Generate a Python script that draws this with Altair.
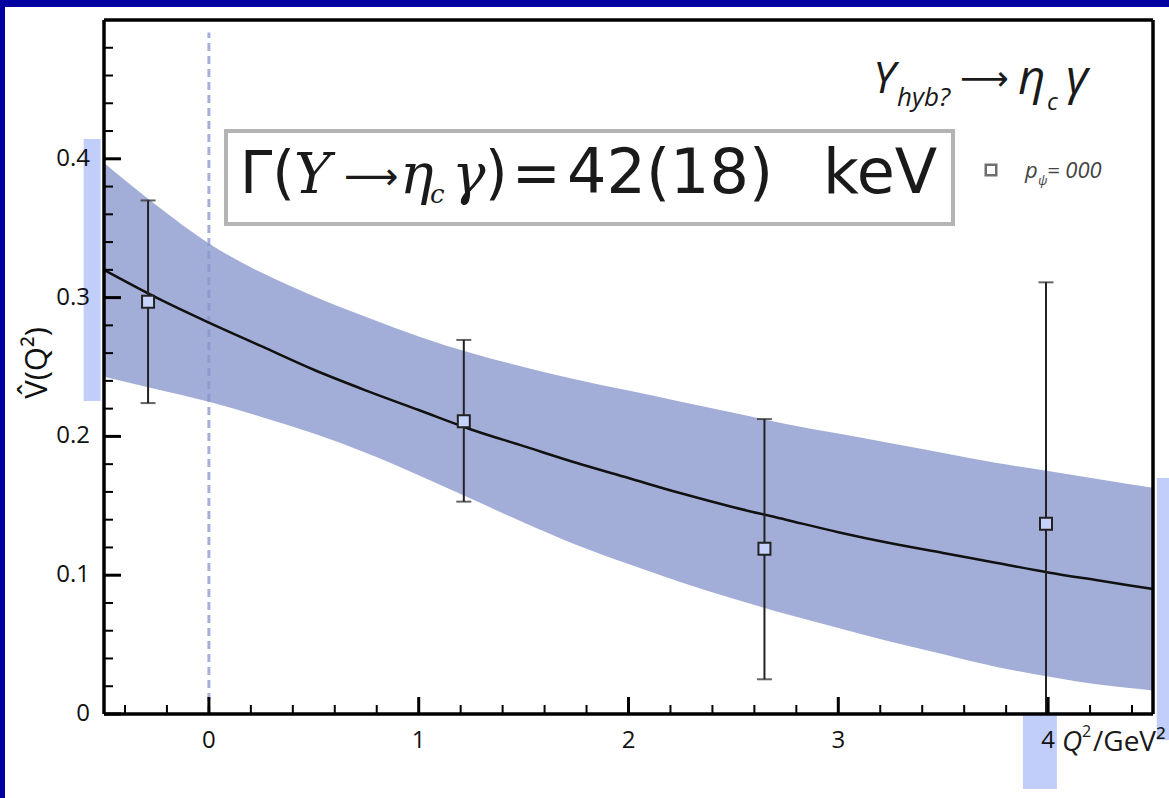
import altair as alt
import pandas as pd

# Fitted form factor: central curve and error band versus Q^2
q2_grid = [-0.5, -0.25, 0.0, 0.25, 0.5, 0.75, 1.0, 1.25, 1.5, 1.75, 2.0,
           2.25, 2.5, 2.75, 3.0, 3.25, 3.5, 3.75, 4.0, 4.25, 4.5]
fit_central = [0.320, 0.300, 0.282, 0.265, 0.248, 0.233, 0.219, 0.205, 0.193, 0.181, 0.170,
               0.159, 0.149, 0.140, 0.131, 0.123, 0.116, 0.109, 0.102, 0.096, 0.090]
fit_upper = [0.397, 0.3665, 0.339, 0.318, 0.301, 0.286, 0.272, 0.260, 0.250, 0.241, 0.233,
             0.225, 0.217, 0.209, 0.202, 0.195, 0.188, 0.181, 0.175, 0.169, 0.163]
fit_lower = [0.243, 0.234, 0.225, 0.214, 0.202, 0.188, 0.172, 0.155, 0.138, 0.122, 0.108,
             0.095, 0.083, 0.072, 0.062, 0.052, 0.043, 0.034, 0.027, 0.021, 0.017]

# Lattice data points with error bars
pt_q2 = [-0.29, 1.215, 2.648, 3.99]
pt_v = [0.297, 0.211, 0.119, 0.137]
pt_lo = [0.224, 0.153, 0.025, -0.04]
pt_hi = [0.370, 0.2695, 0.2125, 0.311]

# Axis ticks and their labels
x_major = [0, 1, 2, 3, 4]
x_labels = ["0", "1", "2", "3", "4"]
x_minor = [-0.4, -0.2, 0.2, 0.4, 0.6, 0.8, 1.2, 1.4, 1.6, 1.8, 2.2, 2.4, 2.6, 2.8,
           3.2, 3.4, 3.6, 3.8, 4.2, 4.4]
y_major = [0, 0.1, 0.2, 0.3, 0.4]
y_labels = ["0", "0.1", "0.2", "0.3", "0.4"]
y_minor = [0.02, 0.04, 0.06, 0.08, 0.12, 0.14, 0.16, 0.18, 0.22, 0.24, 0.26, 0.28,
           0.32, 0.34, 0.36, 0.38, 0.42, 0.44, 0.46, 0.48]

# Highlight boxes (data coordinates)
hl_x0 = [-0.597, 3.880, 4.518]
hl_x1 = [-0.516, 4.042, 4.700]
hl_y0 = [0.2255, -0.054, -0.0187]
hl_y1 = [0.4143, 0.0, 0.170]

W, H = 1049, 694
XMIN, XMAX, YMIN, YMAX = -0.5, 4.5, 0.0, 0.5

xscale = alt.Scale(domain=[XMIN, XMAX], nice=False, zero=False)
yscale = alt.Scale(domain=[YMIN, YMAX], nice=False, zero=False)


def X(field):
    return alt.X(field, type="quantitative", scale=xscale, axis=None)


def Y(field):
    return alt.Y(field, type="quantitative", scale=yscale, axis=None)


fit = pd.DataFrame({"q2": q2_grid, "v": fit_central, "up": fit_upper, "lo": fit_lower})
pts = pd.DataFrame({"q2": pt_q2, "v": pt_v, "lo": pt_lo, "hi": pt_hi})
hl = pd.DataFrame({"x0": hl_x0, "x1": hl_x1, "y0": hl_y0, "y1": hl_y1})
xt = pd.DataFrame({"t": x_major, "lab": x_labels})
yt = pd.DataFrame({"t": y_major, "lab": y_labels})
one = pd.DataFrame({"k": [0]})

# White page over the dark-blue frame
page = alt.Chart(one).mark_rect(color="white", clip=False).encode(
    x=alt.value(-99), x2=alt.value(W + 20), y=alt.value(-13), y2=alt.value(H + 90))

highlights = alt.Chart(hl).mark_rect(color="#C2CEFA", clip=False).encode(
    x=X("x0"), x2="x1", y=Y("y0"), y2="y1")

band = alt.Chart(fit).mark_area(color="#A3AED8", interpolate="monotone").encode(
    x=X("q2"), y=Y("up"), y2="lo")

zero_line = alt.Chart(pd.DataFrame({"q2": [0.0], "y0": [0.0], "y1": [0.491]})).mark_rule(
    color="#8596CC", opacity=0.75, strokeWidth=3, strokeDash=[8, 5]).encode(
    x=X("q2"), y=Y("y0"), y2="y1")

curve = alt.Chart(fit).mark_line(color="#111", strokeWidth=2.5, interpolate="monotone").encode(
    x=X("q2"), y=Y("v"))

bars = alt.Chart(pts).mark_rule(color="#222", strokeWidth=2, clip=True).encode(
    x=X("q2"), y=Y("lo"), y2="hi")
cap_hi = alt.Chart(pts).mark_tick(color="#222", orient="horizontal", size=15,
                                  thickness=2, clip=True).encode(x=X("q2"), y=Y("hi"))
cap_lo = alt.Chart(pts).mark_tick(color="#222", orient="horizontal", size=15,
                                  thickness=2, clip=True).encode(x=X("q2"), y=Y("lo"))
squares = alt.Chart(pts).mark_square(size=144, fill="#C6D3FB", stroke="#222",
                                     strokeWidth=2, opacity=1).encode(x=X("q2"), y=Y("v"))

# Plot frame
frame_h = alt.Chart(pd.DataFrame({"a": [XMIN, XMIN], "b": [XMAX, XMAX], "y": [YMIN, YMAX]})).mark_rule(
    color="black", strokeWidth=3.5, clip=False).encode(x=X("a"), x2="b", y=Y("y"))
frame_v = alt.Chart(pd.DataFrame({"x": [XMIN, XMAX], "a": [YMIN, YMIN], "b": [YMAX, YMAX]})).mark_rule(
    color="black", strokeWidth=3.5, clip=False).encode(x=X("x"), y=Y("a"), y2="b")

# Inward ticks
xt_major = alt.Chart(xt).mark_rule(color="black", strokeWidth=3).encode(
    x=X("t"), y=alt.value(H), y2=alt.value(H - 17))
xt_minor = alt.Chart(pd.DataFrame({"t": x_minor})).mark_rule(color="black", strokeWidth=2).encode(
    x=X("t"), y=alt.value(H), y2=alt.value(H - 9))
yt_major = alt.Chart(yt).mark_rule(color="black", strokeWidth=3).encode(
    y=Y("t"), x=alt.value(0), x2=alt.value(17))
yt_minor = alt.Chart(pd.DataFrame({"t": y_minor})).mark_rule(color="black", strokeWidth=2).encode(
    y=Y("t"), x=alt.value(0), x2=alt.value(9))

# Tick labels
x_ticklabels = alt.Chart(xt).mark_text(font="Open Sans", fontSize=24, color="#111",
                                       baseline="middle", align="center").encode(
    x=X("t"), y=alt.value(H + 27), text="lab")
y_ticklabels = alt.Chart(yt).mark_text(font="Open Sans", fontSize=24, color="#111",
                                       baseline="middle", align="right").encode(
    y=Y("t"), x=alt.value(-14), text="lab")


def label(text, x, y, size, font="Open Sans", style="normal", color="#1a1a1a",
          baseline="alphabetic", align="left", angle=0):
    return alt.Chart(one).mark_text(text=text, font=font, fontSize=size, fontStyle=style,
                                    color=color, baseline=baseline, align=align,
                                    angle=angle).encode(
        x=alt.value(x), y=alt.value(y))


# y-axis title
ytitle = label("V\u0302(Q\u00b2)", -66, 343, 31, color="#111", baseline="middle",
               align="center", angle=270)

# Process title, top right
title = [
    label("Y", 769, 73, 44, style="italic"),
    label("hyb?", 793, 86, 26, style="italic"),
    label("\u27f6", 856, 60, 34, font="DejaVu Sans", baseline="middle"),
    label("\u03b7", 914, 74, 48, style="italic"),
    label("c", 943, 90, 24, style="italic"),
    label("\u03b3", 962, 74, 48, style="italic"),
]

# Width result box
box = alt.Chart(one).mark_rect(fill="white", stroke="#B4B4B4", strokeWidth=4).encode(
    x=alt.value(122), x2=alt.value(849), y=alt.value(111), y2=alt.value(204))
box_text = [
    label("\u0393(", 136, 173, 58, font="DejaVu Sans"),
    label("Y", 190, 173, 56, font="DejaVu Serif", style="italic"),
    label("\u27f6", 240, 158, 38, font="DejaVu Sans", baseline="middle"),
    label("\u03b7", 296, 173, 56, font="DejaVu Serif", style="italic"),
    label("c", 326, 183, 26, font="DejaVu Serif", style="italic"),
    label("\u03b3", 348, 173, 56, font="DejaVu Serif", style="italic"),
    label(")", 381, 173, 58, font="DejaVu Sans"),
    label("=", 408, 173, 58, font="DejaVu Sans"),
    label("42(18)", 463, 173, 62, font="DejaVu Sans"),
    label("keV", 719, 173, 62, font="DejaVu Sans"),
]

# Legend entry
legend = [
    alt.Chart(one).mark_square(size=110, fill="white", stroke="#333", strokeWidth=2.5).encode(
        x=alt.value(887), y=alt.value(150)),
    label("p", 921, 158, 22, style="italic", color="#444"),
    label("\u03c8", 934, 165, 13, style="italic", color="#444"),
    label("= 000", 943, 158, 22, style="italic", color="#444"),
]

# x-axis title beyond the last tick label
xtitle = [
    label("Q", 958, 731, 28, style="italic"),
    label("2", 978, 717, 16),
    label("/GeV\u00b2", 989, 731, 28),
]

layers = ([page, highlights, band, zero_line, curve, bars, cap_hi, cap_lo, squares,
           frame_h, frame_v, xt_major, xt_minor, yt_major, yt_minor,
           x_ticklabels, y_ticklabels, ytitle, box]
          + box_text + title + legend + xtitle)

chart = alt.layer(*layers).properties(
    width=W, height=H,
    padding={"left": 104, "top": 20, "right": 16, "bottom": 84},
    autosize=alt.AutoSizeParams(type="none"),
    background="#0000A0",
).configure_view(stroke=None, fill=None)

chart.save("out.html", embed_options={"renderer": "svg", "actions": False})
